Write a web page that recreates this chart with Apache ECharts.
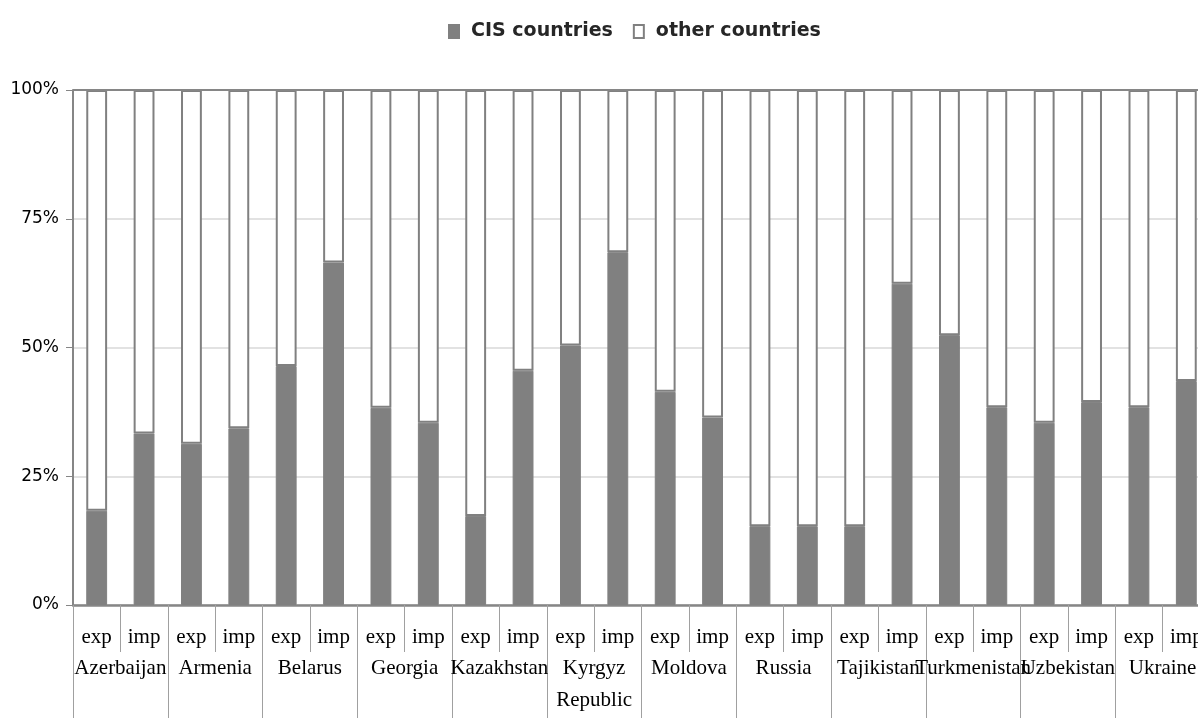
<!DOCTYPE html>
<html>
<head>
<meta charset="utf-8">
<style>
  html, body { margin: 0; padding: 0; background: #fff; }
  #chart { width: 1198px; height: 718px; }
</style>
<script src="https://cdn.jsdelivr.net/npm/echarts@6/dist/echarts.min.js"></script>
</head>
<body>
<div id="chart"></div>
<script>
// Share of trade with CIS partners, by country and direction (percent)
const countries = ['Azerbaijan', 'Armenia', 'Belarus', 'Georgia', 'Kazakhstan', 'Kyrgyz\nRepublic',
                   'Moldova', 'Russia', 'Tajikistan', 'Turkmenistan', 'Uzbekistan', 'Ukraine'];
const flows = ['exp', 'imp'];
const cisExports = [18.3, 31.3, 46.4, 38.3, 17.3, 50.4, 41.4, 15.3, 15.3, 52.4, 35.4, 38.4];
const cisImports = [33.3, 34.3, 66.5, 35.4, 45.5, 68.5, 36.4, 15.3, 62.4, 38.4, 39.4, 43.5];
const yTicks = [0, 25, 50, 75, 100];

// One bar per country and flow: exp, imp, exp, imp ...
const flowCategories = [];
const cisShare = [];
countries.forEach((c, i) => {
  flowCategories.push(flows[0], flows[1]);
  cisShare.push(cisExports[i], cisImports[i]);
});
const otherShare = cisShare.map(v => +(100 - v).toFixed(1));

const GREY = '#808080';
const AXIS = '#868686';

const chart = echarts.init(document.getElementById('chart'), null, { renderer: 'canvas' });
chart.setOption({
  animation: false,
  legend: {
    top: 17,
    left: 443,
    icon: 'rect',
    itemWidth: 10,
    itemHeight: 13,
    itemGap: 20,
    textStyle: { fontFamily: 'DejaVu Sans', fontWeight: 'bold', fontSize: 19, color: '#262626', padding: [0, 0, 0, 7] },
    data: ['CIS countries', 'other countries']
  },
  grid: { left: 73, right: -12, top: 90, bottom: 113, outerBoundsMode: 'none', containLabel: false },
  xAxis: [
    {
      type: 'category',
      data: flowCategories,
      position: 'bottom',
      axisLine: { show: true, lineStyle: { color: AXIS, width: 2.5 } },
      axisTick: { show: true, length: 47, lineStyle: { color: '#a0a0a0', width: 1 } },
      axisLabel: { interval: 0, margin: 20, fontFamily: 'Liberation Serif', fontSize: 21, color: '#000', lineHeight: 24 }
    },
    {
      type: 'category',
      data: countries,
      position: 'bottom',
      axisLine: { show: false },
      axisTick: { show: true, length: 113, lineStyle: { color: '#a0a0a0', width: 1 } },
      axisLabel: { interval: 0, margin: 47, fontFamily: 'Liberation Serif', fontSize: 21, color: '#000', lineHeight: 32, verticalAlign: 'top' }
    }
  ],
  yAxis: {
    type: 'value',
    min: yTicks[0],
    max: yTicks[yTicks.length - 1],
    interval: 25,
    axisLine: { show: true, lineStyle: { color: AXIS, width: 2 } },
    axisTick: { show: true, length: 7, lineStyle: { color: AXIS, width: 1 } },
    axisLabel: { margin: 14, fontFamily: 'DejaVu Sans', fontSize: 17, color: '#000', formatter: '{value}%' },
    splitLine: { show: true, lineStyle: { color: '#d9d9d9', width: 1.5 } }
  },
  series: [
    {
      name: 'CIS countries',
      type: 'bar',
      stack: 'share',
      xAxisIndex: 0,
      barWidth: '44%',
      itemStyle: { color: GREY, borderColor: GREY, borderWidth: 1 },
      data: cisShare
    },
    {
      name: 'other countries',
      type: 'bar',
      stack: 'share',
      xAxisIndex: 0,
      barWidth: '44%',
      itemStyle: { color: '#ffffff', borderColor: GREY, borderWidth: 2 },
      data: otherShare,
      markLine: {
        silent: true,
        symbol: 'none',
        label: { show: false },
        lineStyle: { color: AXIS, width: 2, type: 'solid' },
        data: [{ yAxis: 100 }]
      }
    }
  ]
});
</script>
</body>
</html>
